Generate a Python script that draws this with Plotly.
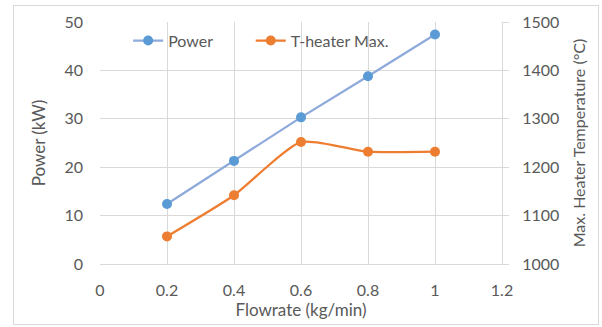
import plotly.graph_objects as go

flowrate = [0.2, 0.4, 0.6, 0.8, 1.0]
power_kw = [12.4, 21.3, 30.3, 38.8, 47.4]
t_heater_max = [1057, 1142, 1252, 1232, 1232]

x_ticks = [0, 0.2, 0.4, 0.6, 0.8, 1, 1.2]
x_tick_labels = ["0", "0.2", "0.4", "0.6", "0.8", "1", "1.2"]

FONT = "Lato"
GRAY = "#595959"
GRID = "#d9d9d9"
FS = 16

fig = go.Figure()
fig.add_trace(go.Scatter(
    x=flowrate, y=power_kw, name="Power", mode="lines+markers",
    line=dict(color="#8eaadb", width=2.25),
    marker=dict(color="#5b9bd5", size=10),
    legend="legend",
))
fig.add_trace(go.Scatter(
    x=flowrate, y=t_heater_max, name="T-heater Max.", mode="lines+markers",
    yaxis="y2",
    line=dict(color="#ed7d31", width=2.25, shape="spline", smoothing=0.6),
    marker=dict(color="#ed7d31", size=10),
    legend="legend2",
))

leg_common = dict(orientation="h", yanchor="middle", xanchor="left",
                  bgcolor="rgba(0,0,0,0)", font=dict(size=FS, color=GRAY), itemwidth=30)

fig.update_layout(
    width=602, height=327,
    margin=dict(l=100, r=100, t=19, b=62),
    paper_bgcolor="white", plot_bgcolor="white",
    font=dict(family=FONT, size=FS, color=GRAY),
    showlegend=True,
    legend=dict(x=0.07, y=0.923, **leg_common),
    legend2=dict(x=0.375, y=0.923, **leg_common),
    xaxis=dict(range=[0, 1.2], tickvals=x_ticks, ticktext=x_tick_labels,
               showgrid=True, gridcolor=GRID, gridwidth=1,
               showline=True, linecolor=GRID, linewidth=1, mirror=False,
               zeroline=False, ticks="", ticklabelstandoff=12,
               tickfont=dict(size=FS, color=GRAY),
               title=dict(text="Flowrate (kg/min)", standoff=4, font=dict(size=17, color=GRAY))),
    yaxis=dict(range=[0, 50], dtick=10, showgrid=True, gridcolor=GRID, gridwidth=1,
               zeroline=False, showline=False, ticks="", ticklabelstandoff=16,
               tickfont=dict(size=FS, color=GRAY),
               title=dict(text="Power (kW)", standoff=14, font=dict(size=17, color=GRAY))),
    yaxis2=dict(range=[1000, 1500], dtick=100, overlaying="y", side="right",
                showgrid=False, zeroline=False, showline=True, linecolor=GRID, linewidth=1,
                ticks="outside", ticklen=6, tickcolor=GRID, ticklabelstandoff=10,
                tickfont=dict(size=FS, color=GRAY),
                title=dict(text="Max. Heater Temperature (°C)", standoff=15,
                           font=dict(size=FS, color=GRAY))),
)

border_js = (
    "document.body.style.margin='0';"
    "var d=document.createElement('div');"
    "d.style.cssText='position:absolute;left:13px;top:5px;width:586px;height:320px;"
    "border:1px solid #d9d9d9;pointer-events:none;box-sizing:border-box;';"
    "document.body.appendChild(d);"
)

fig.write_html("out.html", post_script=border_js, config={"displayModeBar": False})
